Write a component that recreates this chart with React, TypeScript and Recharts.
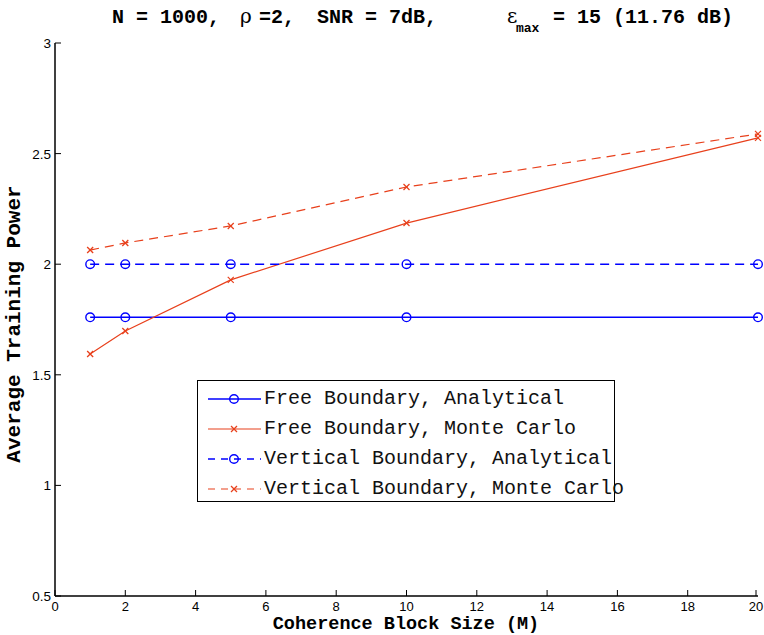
import { LineChart, Line, XAxis, YAxis, Legend, Customized } from 'recharts';

// Coherence block sizes M (x) and average training power per curve
const blockSizes = [1, 2, 5, 10, 20];
const freeAnalytical = [1.76, 1.76, 1.76, 1.76, 1.76];
const freeMonteCarlo = [1.594, 1.698, 1.929, 2.186, 2.571];
const verticalAnalytical = [2, 2, 2, 2, 2];
const verticalMonteCarlo = [2.064, 2.096, 2.173, 2.349, 2.589];

const xTicks = [0, 2, 4, 6, 8, 10, 12, 14, 16, 18, 20];
const yTicks = [0.5, 1, 1.5, 2, 2.5, 3];

const BLUE = '#0000ff';
const RED = '#e8401c';
const MONO = '"Liberation Mono", "Courier New", monospace';
const SANS = '"Liberation Sans", Arial, sans-serif';

type Marker = 'circle' | 'cross';

const series: { key: string; name: string; color: string; dash?: string; marker: Marker; width: number }[] = [
  { key: 'freeAnalytical', name: 'Free Boundary, Analytical', color: BLUE, marker: 'circle', width: 1.6 },
  { key: 'freeMonteCarlo', name: 'Free Boundary, Monte Carlo', color: RED, marker: 'cross', width: 1.2 },
  { key: 'verticalAnalytical', name: 'Vertical Boundary, Analytical', color: BLUE, dash: '9 6', marker: 'circle', width: 1.4 },
  { key: 'verticalMonteCarlo', name: 'Vertical Boundary, Monte Carlo', color: RED, dash: '9 6', marker: 'cross', width: 1.2 },
];

const data = blockSizes.map((m, i) => ({
  m,
  freeAnalytical: freeAnalytical[i],
  freeMonteCarlo: freeMonteCarlo[i],
  verticalAnalytical: verticalAnalytical[i],
  verticalMonteCarlo: verticalMonteCarlo[i],
}));

function markerShape(kind: Marker, color: string, cx: number, cy: number, key?: string | number) {
  if (kind === 'circle') {
    return <circle key={key} cx={cx} cy={cy} r={4.3} fill="none" stroke={color} strokeWidth={1.4} />;
  }
  const s = 3;
  return (
    <g key={key} stroke={color} strokeWidth={1.3}>
      <line x1={cx - s} y1={cy - s} x2={cx + s} y2={cy + s} />
      <line x1={cx - s} y1={cy + s} x2={cx + s} y2={cy - s} />
    </g>
  );
}

const makeDot = (kind: Marker, color: string) => (props: any) =>
  markerShape(kind, color, props.cx, props.cy, `${props.dataKey}-${props.index}`);

// MATLAB-style ticks drawn inward from each side of the box
const BottomTick = ({ x, y, payload }: any) => (
  <g>
    <line x1={x} y1={y} x2={x} y2={y - 6} stroke="#000" strokeWidth={1} />
    <text x={x} y={y + 15} textAnchor="middle" fontFamily={SANS} fontSize={13} fill="#000">
      {payload.value}
    </text>
  </g>
);

const LeftTick = ({ x, y, payload }: any) => (
  <g>
    <line x1={x} y1={y} x2={x + 6} y2={y} stroke="#000" strokeWidth={1} />
    <text x={x - 4} y={y + 5} textAnchor="end" fontFamily={SANS} fontSize={13.5} fill="#000">
      {payload.value}
    </text>
  </g>
);

const TopTick = ({ x, y }: any) => <line x1={x} y1={y} x2={x} y2={y + 6} stroke="#666" strokeWidth={1} />;
const RightTick = ({ x, y }: any) => <line x1={x} y1={y} x2={x - 6} y2={y} stroke="#666" strokeWidth={1} />;

const Titles = () => (
  <g fill="#000">
    <text y={23} fontFamily={MONO} fontWeight="bold" fontSize={20}>
      <tspan x={112}>N = 1000,</tspan>
      <tspan x={240} fontFamily='"DejaVu Serif", serif' fontWeight="normal">ρ</tspan>
      <tspan x={259}>=2,</tspan>
      <tspan x={317}>SNR = 7dB,</tspan>
      <tspan x={507} fontFamily='"DejaVu Serif", serif' fontWeight="normal">ε</tspan>
      <tspan x={516} dy={9} fontSize={13}>max</tspan>
      <tspan x={553} dy={-9}>= 15 (11.76 dB)</tspan>
    </text>
    <text x={406} y={628.5} textAnchor="middle" fontFamily={MONO} fontWeight="bold" fontSize={18.5}>
      Coherence Block Size (M)
    </text>
    <text
      x={20}
      y={324}
      transform="rotate(-90 20 324)"
      textAnchor="middle"
      fontFamily={MONO}
      fontWeight="bold"
      fontSize={21}
    >
      Average Training Power
    </text>
  </g>
);

const LegendBox = () => (
  <div
    style={{
      width: 418,
      height: 122,
      boxSizing: 'border-box',
      border: '1.3px solid #000',
      background: '#fff',
      paddingTop: 3,
    }}
  >
    {series.map((s) => (
      <div key={s.key} style={{ display: 'flex', alignItems: 'center', height: 30, whiteSpace: 'nowrap' }}>
        <svg width={66} height={30} style={{ flex: 'none' }}>
          <line x1={10} y1={15} x2={63} y2={15} stroke={s.color} strokeWidth={s.width} strokeDasharray={s.dash ? '7 6' : undefined} />
          {markerShape(s.marker, s.color, 36, 15)}
        </svg>
        <span style={{ fontFamily: MONO, fontSize: 20, color: '#111', lineHeight: '30px' }}>{s.name}</span>
      </div>
    ))}
  </div>
);

export default function App() {
  return (
    <div style={{ position: 'absolute', left: 0, top: 0, width: 764, height: 635, background: '#fff' }}>
      <LineChart width={764} height={635} data={data} margin={{ top: 43, right: 6, bottom: 0, left: 10 }}>
        <XAxis
          dataKey="m"
          type="number"
          domain={[0, 20]}
          ticks={xTicks}
          height={39}
          tickSize={0}
          tickMargin={0}
          tick={<BottomTick />}
          axisLine={{ stroke: '#000', strokeWidth: 1.5 }}
          tickLine={false}
        />
        <XAxis
          xAxisId="top"
          orientation="top"
          type="number"
          domain={[0, 20]}
          ticks={xTicks}
          height={0}
          tickSize={0}
          tickMargin={0}
          tick={<TopTick />}
          axisLine={{ stroke: '#777', strokeWidth: 1 }}
          tickLine={false}
        />
        <YAxis
          type="number"
          domain={[0.5, 3]}
          ticks={yTicks}
          width={45}
          tickSize={0}
          tickMargin={0}
          tick={<LeftTick />}
          axisLine={{ stroke: '#000', strokeWidth: 1.5 }}
          tickLine={false}
        />
        <YAxis
          yAxisId="right"
          orientation="right"
          type="number"
          domain={[0.5, 3]}
          ticks={yTicks}
          width={0}
          tickSize={0}
          tickMargin={0}
          tick={<RightTick />}
          axisLine={{ stroke: '#000', strokeWidth: 1.3 }}
          tickLine={false}
        />
        {series.map((s) => (
          <Line
            key={s.key}
            type="linear"
            dataKey={s.key}
            name={s.name}
            stroke={s.color}
            strokeWidth={s.width}
            strokeDasharray={s.dash}
            dot={makeDot(s.marker, s.color)}
            activeDot={false}
            isAnimationActive={false}
          />
        ))}
        <Legend
          layout="vertical"
          align="center"
          verticalAlign="middle"
          content={<LegendBox />}
          wrapperStyle={{ left: 197, top: 380, width: 418, height: 122 }}
        />
        <Customized component={Titles} />
      </LineChart>
    </div>
  );
}
